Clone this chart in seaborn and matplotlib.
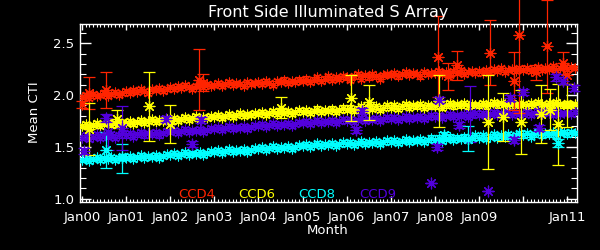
import numpy as np
import pandas as pd
import matplotlib
matplotlib.use("Agg")
import matplotlib.pyplot as plt
from matplotlib.ticker import FixedLocator, MultipleLocator
import seaborn as sns

# ---------------- data ----------------
start_year = 2000.0  # first monthly sample (Jan 2000)

ccd4 = [1.98, 2.00, 1.97, 2.01, 1.99, 2.00, 2.02, 1.99, 2.01, 2.03, 2.00, 2.02,
        2.04, 2.02, 2.05, 2.03, 2.06, 2.04, 2.02, 2.06, 2.05, 2.07, 2.04, 2.06,
        2.08, 2.06, 2.09, 2.07, 2.10, 2.08, 2.06, 2.09, 2.10, 2.08, 2.11, 2.09,
        2.10, 2.12, 2.09, 2.11, 2.13, 2.10, 2.12, 2.11, 2.09, 2.13, 2.11, 2.12,
        2.13, 2.11, 2.14, 2.12, 2.10, 2.14, 2.13, 2.15, 2.12, 2.14, 2.13, 2.15,
        2.14, 2.16, 2.13, 2.15, 2.17, 2.14, 2.16, 2.18, 2.15, 2.17, 2.16, 2.18,
        2.17, 2.15, 2.18, 2.20, 2.16, 2.19, 2.17, 2.20, 2.18, 2.16, 2.19, 2.20,
        2.19, 2.21, 2.18, 2.20, 2.22, 2.19, 2.21, 2.20, 2.18, 2.22, 2.20, 2.21,
        2.21, 2.23, 2.20, 2.22, 2.19, 2.23, 2.21, 2.24, 2.20, 2.22, 2.23, 2.21,
        2.23, 2.21, 2.24, 2.22, 2.25, 2.23, 2.26, 2.22, 2.24, 2.25, 2.23, 2.26,
        2.24, 2.26, 2.23, 2.25, 2.27, 2.24, 2.26, 2.25, 2.28, 2.24, 2.26, 2.27,
        2.25, 2.27, 2.26]

ccd6 = [1.70, 1.72, 1.69, 1.71, 1.73, 1.70, 1.72, 1.74, 1.71, 1.73, 1.72, 1.74,
        1.73, 1.75, 1.72, 1.74, 1.76, 1.73, 1.75, 1.77, 1.74, 1.76, 1.75, 1.77,
        1.76, 1.78, 1.75, 1.77, 1.79, 1.76, 1.78, 1.80, 1.77, 1.79, 1.78, 1.80,
        1.79, 1.81, 1.78, 1.80, 1.82, 1.79, 1.81, 1.83, 1.80, 1.82, 1.81, 1.83,
        1.82, 1.84, 1.81, 1.83, 1.85, 1.82, 1.84, 1.83, 1.85, 1.82, 1.84, 1.86,
        1.84, 1.86, 1.83, 1.85, 1.87, 1.84, 1.86, 1.85, 1.87, 1.84, 1.86, 1.88,
        1.86, 1.88, 1.85, 1.87, 1.89, 1.86, 1.88, 1.87, 1.89, 1.86, 1.88, 1.90,
        1.88, 1.90, 1.87, 1.89, 1.91, 1.88, 1.90, 1.89, 1.91, 1.88, 1.90, 1.89,
        1.89, 1.91, 1.88, 1.90, 1.92, 1.89, 1.91, 1.90, 1.92, 1.89, 1.91, 1.90,
        1.90, 1.92, 1.89, 1.91, 1.93, 1.90, 1.92, 1.91, 1.89, 1.92, 1.90, 1.91,
        1.91, 1.89, 1.92, 1.90, 1.93, 1.91, 1.89, 1.92, 1.90, 1.93, 1.91, 1.90,
        1.92, 1.90, 1.91]

ccd8 = [1.37, 1.39, 1.36, 1.38, 1.40, 1.37, 1.39, 1.38, 1.40, 1.37, 1.39, 1.41,
        1.39, 1.41, 1.38, 1.40, 1.42, 1.39, 1.41, 1.40, 1.42, 1.39, 1.41, 1.43,
        1.42, 1.44, 1.41, 1.43, 1.45, 1.42, 1.44, 1.43, 1.45, 1.42, 1.44, 1.46,
        1.45, 1.47, 1.44, 1.46, 1.48, 1.45, 1.47, 1.46, 1.48, 1.45, 1.47, 1.49,
        1.48, 1.50, 1.47, 1.49, 1.51, 1.48, 1.50, 1.49, 1.51, 1.48, 1.50, 1.52,
        1.51, 1.53, 1.50, 1.52, 1.54, 1.51, 1.53, 1.52, 1.54, 1.51, 1.53, 1.55,
        1.53, 1.55, 1.52, 1.54, 1.56, 1.53, 1.55, 1.54, 1.56, 1.53, 1.55, 1.57,
        1.55, 1.57, 1.54, 1.56, 1.58, 1.55, 1.57, 1.56, 1.58, 1.55, 1.57, 1.59,
        1.57, 1.59, 1.56, 1.58, 1.60, 1.57, 1.59, 1.58, 1.60, 1.57, 1.59, 1.61,
        1.59, 1.61, 1.58, 1.60, 1.62, 1.59, 1.61, 1.60, 1.62, 1.59, 1.61, 1.63,
        1.61, 1.63, 1.60, 1.62, 1.64, 1.61, 1.63, 1.62, 1.64, 1.61, 1.63, 1.64,
        1.62, 1.64, 1.63]

ccd9 = [1.59, 1.61, 1.58, 1.60, 1.62, 1.59, 1.61, 1.60, 1.62, 1.59, 1.61, 1.63,
        1.61, 1.63, 1.60, 1.62, 1.64, 1.61, 1.63, 1.62, 1.64, 1.61, 1.63, 1.65,
        1.64, 1.66, 1.63, 1.65, 1.67, 1.64, 1.66, 1.65, 1.67, 1.64, 1.66, 1.68,
        1.67, 1.69, 1.66, 1.68, 1.70, 1.67, 1.69, 1.68, 1.70, 1.67, 1.69, 1.71,
        1.70, 1.72, 1.69, 1.71, 1.73, 1.70, 1.72, 1.71, 1.73, 1.70, 1.72, 1.74,
        1.73, 1.75, 1.72, 1.74, 1.76, 1.73, 1.75, 1.74, 1.76, 1.73, 1.75, 1.77,
        1.75, 1.77, 1.74, 1.76, 1.78, 1.75, 1.77, 1.76, 1.78, 1.75, 1.77, 1.79,
        1.77, 1.79, 1.76, 1.78, 1.80, 1.77, 1.79, 1.78, 1.80, 1.77, 1.79, 1.81,
        1.79, 1.81, 1.78, 1.80, 1.82, 1.79, 1.81, 1.80, 1.82, 1.79, 1.81, 1.83,
        1.81, 1.83, 1.80, 1.82, 1.84, 1.81, 1.83, 1.82, 1.84, 1.81, 1.83, 1.82,
        1.82, 1.84, 1.81, 1.83, 1.85, 1.82, 1.84, 1.83, 1.81, 1.84, 1.82, 1.83,
        1.83, 1.82, 1.84]

band_err = 0.02  # typical small error bar on the monthly points

# scattered points with larger error bars
ccd4_out_x = [2000.0, 2000.15, 2000.55, 2002.65, 2002.75, 2008.07, 2008.3, 2008.5,
              2009.25, 2009.8, 2009.9, 2010.3, 2010.55, 2010.9, 2011.0]
ccd4_out_y = [1.91, 2.02, 2.05, 2.15, 2.12, 2.37, 2.18, 2.29,
              2.41, 2.14, 2.58, 2.22, 2.47, 2.31, 2.19]
ccd4_out_e = [0.03, 0.15, 0.17, 0.29, 0.08, 0.39, 0.13, 0.14,
              0.31, 0.28, 0.75, 0.07, 0.45, 0.11, 0.08]

ccd6_out_x = [2000.15, 2000.8, 2001.52, 2002.0, 2004.5, 2006.1, 2006.5, 2008.1,
              2009.2, 2009.55, 2009.95, 2010.4, 2010.6, 2010.8, 2011.0]
ccd6_out_y = [1.67, 1.77, 1.89, 1.72, 1.88, 1.97, 1.93, 1.94,
              1.74, 1.79, 1.74, 1.82, 1.86, 1.72, 1.90]
ccd6_out_e = [0.25, 0.09, 0.33, 0.18, 0.10, 0.22, 0.17, 0.25,
              0.45, 0.23, 0.31, 0.28, 0.20, 0.39, 0.21]

ccd8_out_x = [2000.55, 2000.9, 2008.2, 2008.75, 2010.8]
ccd8_out_y = [1.47, 1.39, 1.61, 1.58, 1.54]
ccd8_out_e = [0.17, 0.14, 0.03, 0.12, 0.04]

ccd9_out_x = [2000.05, 2000.55, 2000.6, 2000.9, 2001.9, 2002.5, 2002.7, 2006.2,
              2006.35, 2007.9, 2008.05, 2008.1, 2008.55, 2008.8, 2009.2, 2009.7,
              2009.8, 2010.0, 2010.35, 2010.75, 2010.9, 2011.15]
ccd9_out_y = [1.46, 1.78, 1.64, 1.68, 1.77, 1.53, 1.76, 1.66,
              1.85, 1.15, 1.50, 1.95, 1.71, 1.82, 1.07, 1.97,
              1.57, 2.03, 1.68, 2.17, 2.14, 2.07]
ccd9_out_e = [0.03, 0.04, 0.17, 0.21, 0.03, 0.03, 0.03, 0.03,
              0.03, 0.00, 0.03, 0.03, 0.03, 0.27, 0.00, 0.03,
              0.03, 0.03, 0.03, 0.03, 0.03, 0.03]

ccd_names = ["CCD4", "CCD6", "CCD8", "CCD9"]
ccd_colors = ["#ff2400", "#ffff00", "#00ffff", "#5200dc"]

tick_years = list(range(2000, 2012))
tick_labels = ["Jan00", "Jan01", "Jan02", "Jan03", "Jan04", "Jan05",
               "Jan06", "Jan07", "Jan08", "Jan09", "", "Jan11"]
y_ticks = [1.0, 1.5, 2.0, 2.5]

# ---------------- style ----------------
sns.set_theme(style="ticks")
plt.rcParams.update({
    "figure.facecolor": "black",
    "axes.facecolor": "black",
    "axes.edgecolor": "white",
    "axes.linewidth": 1.0,
    "text.color": "white",
    "xtick.color": "white",
    "ytick.color": "white",
    "axes.labelcolor": "white",
})
plt.rcParams["font.family"] = ["DejaVu Sans"]

W, H = 600, 250
fig = plt.figure(figsize=(W / 100, H / 100), dpi=100)
ax = fig.add_axes([80 / W, 1 - 201.5 / H, 497 / W, 177.5 / H])

months = np.arange(len(ccd4))
t = start_year + months / 12.0

series = [
    (ccd4, ccd4_out_x, ccd4_out_y, ccd4_out_e),
    (ccd6, ccd6_out_x, ccd6_out_y, ccd6_out_e),
    (ccd8, ccd8_out_x, ccd8_out_y, ccd8_out_e),
    (ccd9, ccd9_out_x, ccd9_out_y, ccd9_out_e),
]

star = (8, 2, 0)
for (vals, ox, oy, oe), name, col in zip(series, ccd_names, ccd_colors):
    df = pd.DataFrame({"t": t, "v": vals})
    ax.errorbar(df["t"], df["v"], yerr=band_err, fmt="none", ecolor=col,
                elinewidth=0.8, capsize=3, capthick=0.8, zorder=2)
    sns.scatterplot(data=df, x="t", y="v", marker=star, color=col,
                    edgecolor=col, s=42, linewidth=0.8, ax=ax, zorder=3,
                    legend=False)
    dfo = pd.DataFrame({"t": ox, "v": oy, "e": oe})
    eb = ax.errorbar(dfo["t"], dfo["v"], yerr=dfo["e"], fmt="none", ecolor=col,
                     elinewidth=0.9, capsize=4, capthick=0.9, zorder=4)
    for art in eb.lines[1] + eb.lines[2]:
        art.set_clip_on(False)
    sns.scatterplot(data=dfo, x="t", y="v", marker=star, color=col,
                    edgecolor=col, s=60, linewidth=0.9, ax=ax, zorder=5,
                    legend=False)

ax.set_xlim(1999.955, 2011.22)
ax.set_ylim(0.973, 2.686)

ax.xaxis.set_major_locator(FixedLocator(tick_years))
ax.set_xticklabels(tick_labels)
ax.xaxis.set_minor_locator(MultipleLocator(1 / 12))
ax.yaxis.set_major_locator(FixedLocator(y_ticks))
ax.set_yticklabels([f"{v:.1f}" for v in y_ticks])
ax.yaxis.set_minor_locator(MultipleLocator(0.1))

ax.tick_params(axis="x", which="major", direction="in", length=4.5, width=1,
               top=True, bottom=True, labelsize=9.5, pad=7, colors="white")
ax.tick_params(axis="x", which="minor", direction="in", length=2.2, width=0.8,
               top=True, bottom=True)
ax.tick_params(axis="y", which="major", direction="in", length=8, width=1,
               left=True, right=True, labelsize=9.5, pad=4, colors="white")
ax.tick_params(axis="y", which="minor", direction="in", length=4.3, width=0.8,
               left=True, right=True)
for s in ax.spines.values():
    s.set_color("white")
    s.set_visible(True)

ax.set_xlabel("")
ax.set_ylabel("")

fig.text(328 / W, 1 - 12 / H, "Front Side Illuminated S Array", ha="center",
         va="center", fontsize=11.5, color="white")
fig.text(35 / W, 1 - 112 / H, "Mean CTI", ha="center", va="center",
         rotation=90, fontsize=9.5, color="white")
fig.text(328 / W, 1 - 231 / H, "Month", ha="center", va="center",
         fontsize=9.5, color="white")

legend_x = [197, 257, 317, 378]
for name, col, lx in zip(ccd_names, ccd_colors, legend_x):
    fig.text(lx / W, 1 - 195 / H, name, ha="center", va="center",
             fontsize=9.5, color=col)

fig.savefig("out.png", dpi=100, facecolor="black")
